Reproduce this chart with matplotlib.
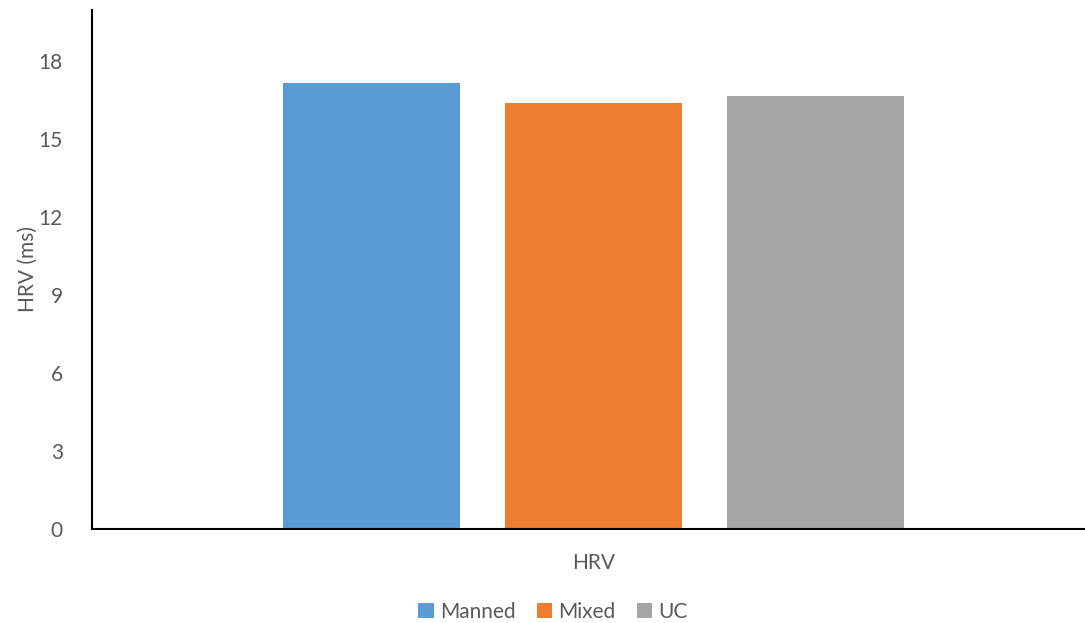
import matplotlib
matplotlib.use("Agg")
import matplotlib.pyplot as plt
import numpy as np
from matplotlib.patches import Patch

# mean HRV per condition
CATEGORY = "HRV"
SERIES = ["Manned", "Mixed", "UC"]
VALUES = [17.18, 16.41, 16.68]
COLORS = ["#5B9BD5", "#ED7D31", "#A5A5A5"]
Y_TICKS = [0, 3, 6, 9, 12, 15, 18]

plt.rcParams["font.family"] = ["Lato", "DejaVu Sans"]
TEXT = "#595959"
FS = 15

fig = plt.figure(figsize=(10.85, 6.23), dpi=100)
ax = fig.add_axes([92 / 1085, 94 / 623, 1 - 92 / 1085, 519.5 / 623])

x = np.arange(len(SERIES)) - 1
ax.bar(x, VALUES, width=0.793, color=COLORS, zorder=2)

ax.set_xlim(-2.259, 2.214)
ax.set_ylim(0, 20)
ax.set_yticks(Y_TICKS)
ax.set_yticklabels([str(t) for t in Y_TICKS], fontsize=FS, color=TEXT)
ax.set_xticks([0])
ax.set_xticklabels([CATEGORY], fontsize=FS, color=TEXT)
ax.tick_params(axis="both", length=0)
ax.tick_params(axis="y", pad=21)
ax.tick_params(axis="x", pad=17)

for side in ("top", "right"):
    ax.spines[side].set_visible(False)
for side in ("left", "bottom"):
    ax.spines[side].set_linewidth(1.5)
    ax.spines[side].set_color("black")

ax.set_ylabel("HRV (ms)", fontsize=FS, color=TEXT)
ax.yaxis.set_label_coords(-0.055, 0.5)

handles = [Patch(facecolor=c, label=s) for s, c in zip(SERIES, COLORS)]
fig.legend(handles=handles, loc="center", bbox_to_anchor=(553 / 1085, 1 - 612 / 623),
           ncol=3, frameon=False, fontsize=FS, labelcolor=TEXT,
           handlelength=0.75, handleheight=0.75, handletextpad=0.3, columnspacing=1.0)

fig.savefig("out.png", dpi=100)
